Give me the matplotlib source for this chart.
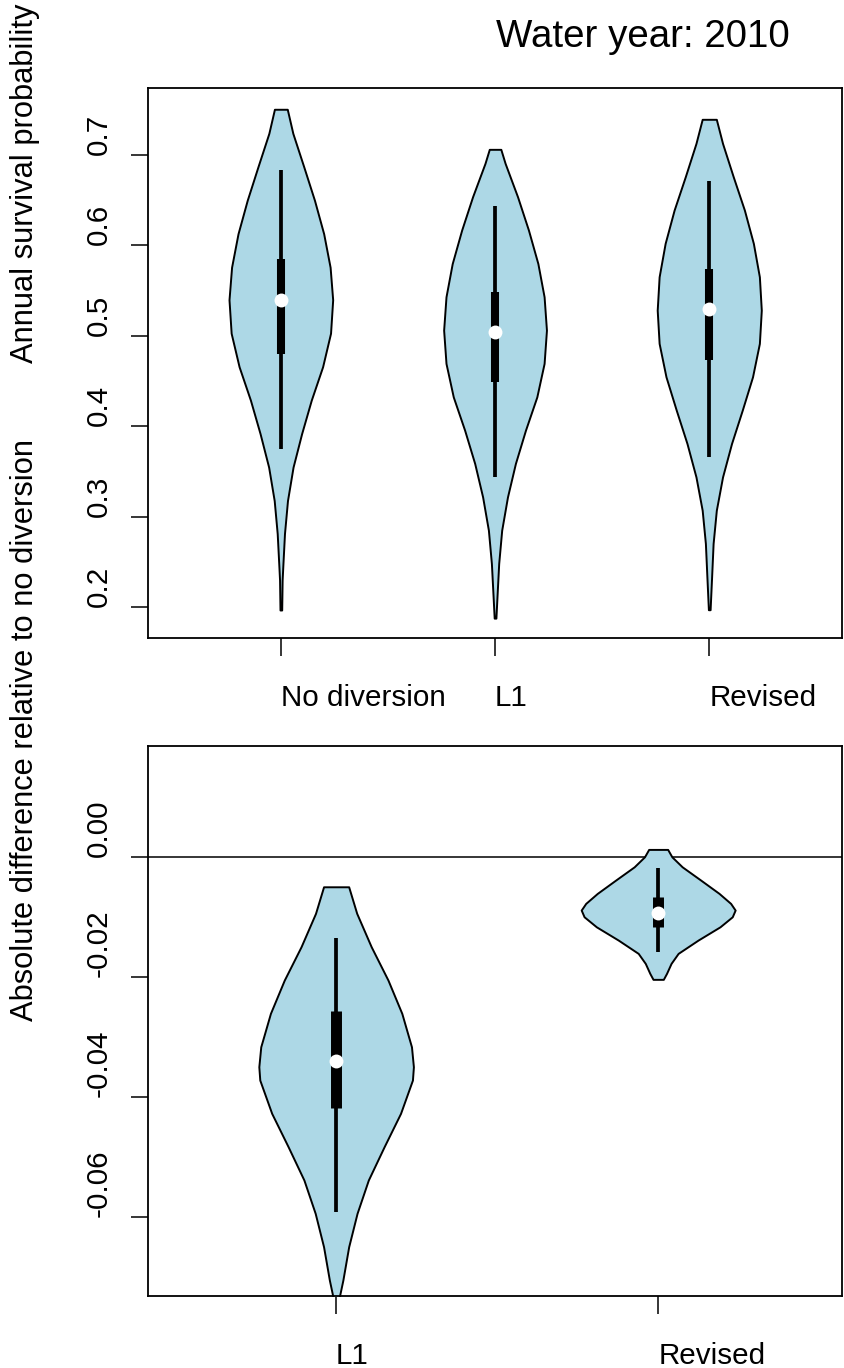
import matplotlib
matplotlib.use("Agg")
import matplotlib.pyplot as plt
import numpy as np

plt.rcParams['font.family'] = ['Liberation Sans', 'DejaVu Sans']

# --- survival probability violins (value grid, half-width in x units) ---
top_labels = ["No diversion", "L1", "Revised"]

nodiv_y = [0.7506, 0.724, 0.687, 0.650, 0.613, 0.576, 0.540, 0.503, 0.466,
           0.429, 0.392, 0.355, 0.318, 0.2815, 0.2446, 0.230, 0.197]
nodiv_w = [0.030, 0.056, 0.107, 0.157, 0.200, 0.230, 0.242, 0.232, 0.195,
           0.142, 0.097, 0.057, 0.031, 0.017, 0.009, 0.006, 0.004]

l1_y = [0.7063, 0.6908, 0.6539, 0.617, 0.580, 0.5433, 0.5064, 0.4696, 0.4326,
        0.3958, 0.359, 0.322, 0.2852, 0.2483, 0.2114, 0.188]
l1_w = [0.027, 0.047, 0.105, 0.156, 0.200, 0.229, 0.240, 0.229, 0.195,
        0.142, 0.095, 0.058, 0.031, 0.017, 0.009, 0.004]

rev_y = [0.7395, 0.7129, 0.676, 0.6392, 0.6023, 0.5654, 0.5285, 0.4917, 0.4548,
         0.4179, 0.3811, 0.3441, 0.3073, 0.2705, 0.2335, 0.2077, 0.1973]
rev_w = [0.033, 0.062, 0.112, 0.164, 0.206, 0.234, 0.243, 0.234, 0.202,
         0.154, 0.104, 0.062, 0.033, 0.018, 0.011, 0.006, 0.004]

top_median = [0.540, 0.5045, 0.5293]
top_q1 = [0.480, 0.4492, 0.4732]
top_q3 = [0.5846, 0.5488, 0.5736]
top_lo = [0.3745, 0.344, 0.3663]
top_hi = [0.684, 0.6436, 0.6712]

# --- differences relative to no diversion ---
bot_labels = ["L1", "Revised"]

dl1_y = [-0.00495, -0.00938, -0.01495, -0.0205, -0.02605, -0.03162, -0.03495,
         -0.03717, -0.04272, -0.04828, -0.05383, -0.05938, -0.06495, -0.0705, -0.0738]
dl1_w = [0.039, 0.064, 0.109, 0.161, 0.204, 0.234, 0.240, 0.237, 0.200,
         0.149, 0.100, 0.065, 0.039, 0.021, 0.008]

drev_y = [0.00128, 0.00005, -0.00162, -0.00383, -0.00605, -0.00772, -0.00883,
          -0.00995, -0.01162, -0.01383, -0.01605, -0.01772, -0.01938, -0.02038]
drev_w = [0.0295, 0.0425, 0.0745, 0.132, 0.189, 0.225, 0.239, 0.230, 0.192,
          0.124, 0.062, 0.040, 0.026, 0.016]

bot_median = [-0.0340, -0.00925]
bot_q1 = [-0.0419, -0.01172]
bot_q3 = [-0.0256, -0.00661]
bot_lo = [-0.0591, -0.0158]
bot_hi = [-0.01356, -0.00185]

FILL = "#add8e6"


def draw_violins(ax, shapes, med, q1, q3, lo, hi, box_lw):
    for i, (ys, ws) in enumerate(shapes):
        pos = i + 1
        ys = np.array(ys)
        ws = np.array(ws)
        ax.fill_betweenx(ys, pos - ws, pos + ws, facecolor=FILL,
                         edgecolor="black", linewidth=1.4, zorder=2)
        ax.plot([pos, pos], [lo[i], hi[i]], color="black", lw=2.7,
                solid_capstyle="butt", zorder=3)
        ax.plot([pos, pos], [q1[i], q3[i]], color="black", lw=box_lw,
                solid_capstyle="butt", zorder=3)
        ax.plot(pos, med[i], "o", color="white", ms=10, mew=0, zorder=4)


def style_axes(ax, xlabels, yticks, ylabels):
    for s in ax.spines.values():
        s.set_linewidth(1.3)
    ax.set_xticks(range(1, len(xlabels) + 1))
    ax.set_xticklabels(xlabels, fontsize=21.3, ha="left")
    ax.set_yticks(yticks)
    ax.set_yticklabels(ylabels, fontsize=21.3, rotation=90, va="bottom")
    ax.tick_params(axis="x", length=13, width=1.1, pad=20)
    ax.tick_params(axis="y", length=12.5, width=1.1, pad=13)


fig = plt.figure(figsize=(8.44, 13.68), dpi=100)
ax1 = fig.add_axes([0.1754, 0.5336, 0.8223, 0.4020])
ax2 = fig.add_axes([0.1754, 0.0526, 0.8223, 0.4020])

draw_violins(ax1, [(nodiv_y, nodiv_w), (l1_y, l1_w), (rev_y, rev_w)],
             top_median, top_q1, top_q3, top_lo, top_hi, box_lw=5.8)
ax1.set_xlim(0.38, 3.62)
ax1.set_ylim(0.166, 0.774)
style_axes(ax1, top_labels, [0.2, 0.3, 0.4, 0.5, 0.6, 0.7],
           ["0.2", "0.3", "0.4", "0.5", "0.6", "0.7"])

ax2.axhline(0, color="black", lw=1.1, zorder=1)
draw_violins(ax2, [(dl1_y, dl1_w), (drev_y, drev_w)],
             bot_median, bot_q1, bot_q3, bot_lo, bot_hi, box_lw=7.9)
ax2.set_xlim(0.416, 2.571)
ax2.set_ylim(-0.07317, 0.0185)
style_axes(ax2, bot_labels, [0.0, -0.02, -0.04, -0.06],
           ["0.00", "-0.02", "-0.04", "-0.06"])

fig.text(496 / 844, 1 - 47 / 1368, "Water year: 2010", fontsize=27.7,
         ha="left", va="baseline")
fig.text(25 / 844, 1 - 363 / 1368, "Annual survival probability",
         fontsize=22.2, rotation=90, ha="center", va="bottom")
fig.text(25 / 844, 1 - 1021 / 1368, "Absolute difference relative to no diversion",
         fontsize=22.2, rotation=90, ha="center", va="bottom")

fig.savefig("out.png", dpi=100)
